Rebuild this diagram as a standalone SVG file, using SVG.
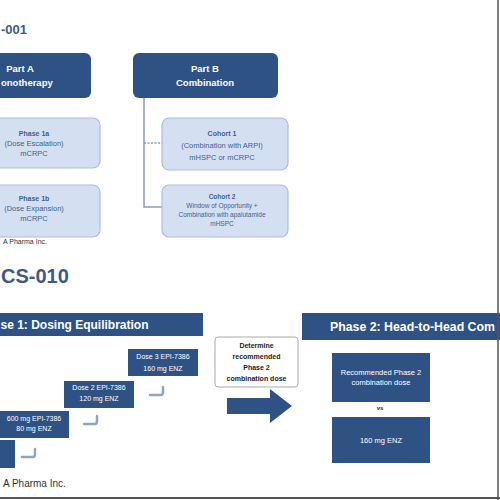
<svg xmlns="http://www.w3.org/2000/svg" width="500" height="500" viewBox="0 0 500 500">
<style>
text{font-family:"Liberation Sans",Arial,sans-serif}
.title{fill:#3d5a86;font-weight:bold}
.dark{fill:#2e5284}
.light{fill:#d4e0f1;stroke:#a8bedd;stroke-width:1.2}
.wt{fill:#ffffff;font-size:7px;text-anchor:middle}
.wb{fill:#ffffff;font-size:9.5px;font-weight:bold;text-anchor:middle}
.lt{fill:#3f5f8e;font-size:7.5px;text-anchor:middle}
.lb{fill:#3f5f8e;font-size:7px;font-weight:bold;text-anchor:middle}
.ban{fill:#ffffff;font-size:12px;font-weight:bold}
.det{fill:#222222;font-size:7px;font-weight:bold;text-anchor:middle}
.foot{fill:#333333}
.conn{fill:none;stroke:#8b9cb8;stroke-width:1.5}
.step{fill:none;stroke:#8fa3c6;stroke-width:2.5;stroke-linecap:round}
</style>
<rect width="500" height="500" fill="#ffffff"/>

<text class="title" x="1" y="34" style="font-size:13px">-001</text>

<g id="connectors">
<path class="conn" d="M144 97 V207 H163"/>
<path class="conn" d="M144 143 H162" stroke-dasharray="2 1.5"/>
<path class="step" d="M150 395 H161 Q163 395 163 392 V387"/>
<path class="step" d="M84 424 H95 Q97 424 97 421 V416"/>
<path class="step" d="M22 457 H33 Q35 457 35 454 V449"/>
</g>

<g id="partA">
<rect class="dark" x="-60" y="53" width="151" height="45" rx="6"/>
<text class="wb" x="20" y="71.5">Part A</text>
<text class="wb" x="1" y="85.5" style="text-anchor:start">onotherapy</text>
</g>
<g id="partB">
<rect class="dark" x="133" y="53" width="145" height="45" rx="6"/>
<text class="wb" x="205" y="71.5">Part B</text>
<text class="wb" x="205" y="85.5">Combination</text>
</g>
<g id="phase1a">
<rect class="light" x="-50" y="118" width="150" height="50" rx="7"/>
<text class="lb" x="34" y="135.5">Phase 1a</text>
<text class="lt" x="34" y="145.5">(Dose Escalation)</text>
<text class="lt" x="34" y="155.5">mCRPC</text>
</g>
<g id="phase1b">
<rect class="light" x="-50" y="185" width="150" height="52" rx="7"/>
<text class="lb" x="34" y="200.5">Phase 1b</text>
<text class="lt" x="34" y="210.5">(Dose Expansion)</text>
<text class="lt" x="34" y="220.5">mCRPC</text>
</g>
<g id="cohort1">
<rect class="light" x="162" y="118" width="126" height="52" rx="7"/>
<text class="lb" x="222" y="135.5">Cohort 1</text>
<text class="lt" x="222" y="147.5">(Combination with ARPI)</text>
<text class="lt" x="222" y="159.5">mHSPC or mCRPC</text>
</g>
<g id="cohort2">
<rect class="light" x="162" y="185" width="126" height="52" rx="7"/>
<text class="lb" x="222" y="199" style="font-size:6.5px">Cohort 2</text>
<text class="lt" x="222" y="208" style="font-size:6.5px">Window of Opportunity +</text>
<text class="lt" x="222" y="217" style="font-size:6.5px">Combination with apalutamide</text>
<text class="lt" x="222" y="226" style="font-size:6.5px">mHSPC</text>
</g>
<text class="foot" x="3" y="244" style="font-size:7px">A Pharma Inc.</text>

<text class="title" x="1" y="283" style="font-size:20px">CS-010</text>

<g id="phase1banner">
<rect class="dark" x="-60" y="313" width="263" height="23"/>
<text class="ban" x="0.5" y="329">se 1: Dosing Equilibration</text>
</g>
<g id="phase2banner">
<rect class="dark" x="302" y="313" width="230" height="27"/>
<text class="ban" x="330" y="331" textLength="165" lengthAdjust="spacingAndGlyphs">Phase 2: Head-to-Head Com</text>
</g>

<g id="dose3">
<rect class="dark" x="128" y="349" width="70" height="27"/>
<text class="wt" x="163" y="358.5">Dose 3 EPI-7386</text>
<text class="wt" x="163" y="370.5">160 mg ENZ</text>
</g>
<g id="dose2">
<rect class="dark" x="64" y="381" width="70" height="27"/>
<text class="wt" x="99" y="389.5">Dose 2 EPI-7386</text>
<text class="wt" x="99" y="400.5">120 mg ENZ</text>
</g>
<g id="dose1">
<rect class="dark" x="-2" y="411" width="71" height="27"/>
<text class="wt" x="34" y="420.5">600 mg EPI-7386</text>
<text class="wt" x="34" y="430.5">80 mg ENZ</text>
</g>
<g id="dose0">
<rect class="dark" x="-60" y="440" width="75" height="28"/>
</g>

<g id="determine">
<rect x="215" y="337" width="83" height="50" rx="3" fill="#ffffff" stroke="#a9a9a9" stroke-width="1"/>
<text class="det" x="256.5" y="347.5">Determine</text>
<text class="det" x="256.5" y="359">recommended</text>
<text class="det" x="256.5" y="369.5">Phase 2</text>
<text class="det" x="256.5" y="380.5">combination dose</text>
</g>
<g id="bigArrow">
<path class="dark" d="M227 398 H270 V389 L292 406 L270 423 V414 H227 Z"/>
</g>

<g id="recommended">
<rect class="dark" x="332" y="353" width="98" height="49"/>
<text class="wt" x="381" y="374.5" style="font-size:7.5px">Recommended Phase 2</text>
<text class="wt" x="381" y="384.5" style="font-size:7.5px">combination dose</text>
</g>
<text x="380" y="410" fill="#222222" font-size="6" font-weight="bold" text-anchor="middle">vs</text>
<g id="enz160">
<rect class="dark" x="332" y="417" width="98" height="46"/>
<text class="wt" x="381" y="442.5" style="font-size:7.5px">160 mg ENZ</text>
</g>

<text class="foot" x="3" y="487" style="font-size:10px">A Pharma Inc.</text>

<line x1="498" y1="0" x2="498" y2="500" stroke="#555555" stroke-width="1.5"/>
<line x1="0" y1="498" x2="500" y2="498" stroke="#555555" stroke-width="2"/>
</svg>
